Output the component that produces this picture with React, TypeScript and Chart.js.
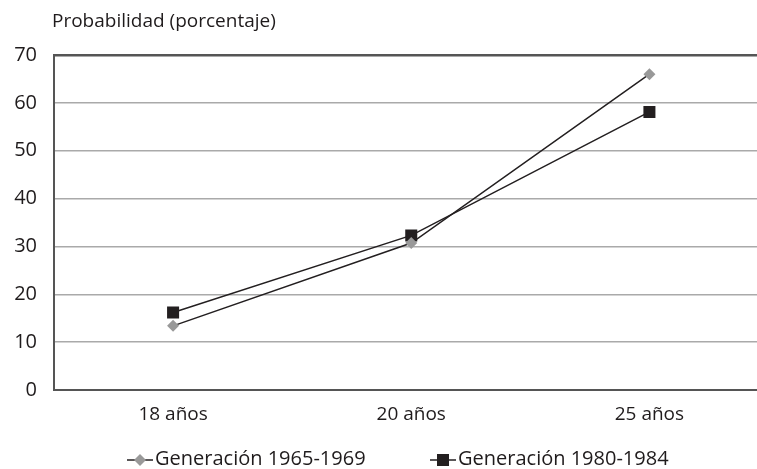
import React, { useEffect, useRef } from "react";
import { Chart, registerables } from "chart.js";

Chart.register(...registerables);

const categories = ["18 años", "20 años", "25 años"];
const gen1965 = [13.4, 30.7, 66.0];
const gen1980 = [16.2, 32.3, 58.1];
const seriesNames = ["Generación 1965-1969", "Generación 1980-1984"];
const yTitle = "Probabilidad (porcentaje)";

const FONT = "'Open Sans', 'Noto Sans', sans-serif";
const TEXT = "#1f1b1c";

export default function App() {
  const ref = useRef<HTMLCanvasElement | null>(null);
  useEffect(() => {
    const canvas = ref.current!;
    const overlay = {
      id: "overlay",
      afterDraw(chart: any) {
        const ctx = chart.ctx;
        ctx.save();
        ctx.fillStyle = TEXT;
        ctx.font = `19px ${FONT}`;
        ctx.textBaseline = "middle";
        ctx.textAlign = "left";
        ctx.fillText(yTitle, 52, 22);
        const items = [
          { x: 127, style: "rectRot", color: "#999999", r: 6 },
          { x: 430, style: "rect", color: "#231f20", r: 8.5 },
        ];
        const ly = 460;
        ctx.font = `20px ${FONT}`;
        items.forEach((it, i) => {
          ctx.strokeStyle = "#231f20";
          ctx.lineWidth = 1.5;
          ctx.beginPath();
          ctx.moveTo(it.x, ly);
          ctx.lineTo(it.x + 26, ly);
          ctx.stroke();
          ctx.fillStyle = it.color;
          const cx = it.x + 13;
          ctx.beginPath();
          if (it.style === "rect") {
            const s = it.r * Math.SQRT1_2;
            ctx.rect(cx - s, ly - s, 2 * s, 2 * s);
          } else {
            ctx.moveTo(cx, ly - it.r);
            ctx.lineTo(cx + it.r, ly);
            ctx.lineTo(cx, ly + it.r);
            ctx.lineTo(cx - it.r, ly);
            ctx.closePath();
          }
          ctx.fill();
          ctx.fillStyle = TEXT;
          ctx.fillText(seriesNames[i], it.x + 28, ly - 1);
        });
        ctx.restore();
      },
    };
    const chart = new Chart(canvas, {
      type: "line",
      data: {
        labels: categories,
        datasets: [
          {
            label: seriesNames[0],
            data: gen1965,
            borderColor: "#231f20",
            borderWidth: 1.5,
            pointStyle: "rectRot",
            pointRadius: 6,
            pointBackgroundColor: "#999999",
            pointBorderColor: "#999999",
            pointBorderWidth: 0,
            tension: 0,
          },
          {
            label: seriesNames[1],
            data: gen1980,
            borderColor: "#231f20",
            borderWidth: 1.5,
            pointStyle: "rect",
            pointRadius: 8.5,
            pointBackgroundColor: "#231f20",
            pointBorderColor: "#231f20",
            pointBorderWidth: 0,
            tension: 0,
          },
        ],
      },
      options: {
        responsive: false,
        animation: false,
        layout: { padding: { top: 55, left: 0, right: 0, bottom: 0 } },
        plugins: {
          legend: { display: false },
          title: { display: false },
          tooltip: { enabled: false },
        },
        scales: {
          x: {
            offset: true,
            grid: { display: false, drawTicks: false },
            border: { display: true, color: "#555555", width: 2 },
            ticks: { color: TEXT, font: { family: FONT, size: 19 }, padding: 13 },
            afterFit(scale: any) {
              scale.height = 79;
            },
          },
          y: {
            min: 0,
            max: 70,
            ticks: { stepSize: 10, color: TEXT, font: { family: FONT, size: 20 }, padding: 17 },
            grid: {
              drawTicks: false,
              color: (c: any) => (c.tick && c.tick.value === 70 ? "#555555" : "#aaaaaa"),
              lineWidth: (c: any) => (c.tick && c.tick.value === 70 ? 2.5 : 1.5),
            },
            border: { display: true, color: "#555555", width: 2 },
            afterFit(scale: any) {
              scale.width = 54;
            },
          },
        },
      },
      plugins: [overlay],
    });
    return () => chart.destroy();
  }, []);
  return (
    <div style={{ position: "fixed", left: 0, top: 0, width: 757, height: 469, overflow: "hidden", background: "#fff" }}>
      <canvas ref={ref} width={777} height={469} style={{ display: "block" }} />
    </div>
  );
}
